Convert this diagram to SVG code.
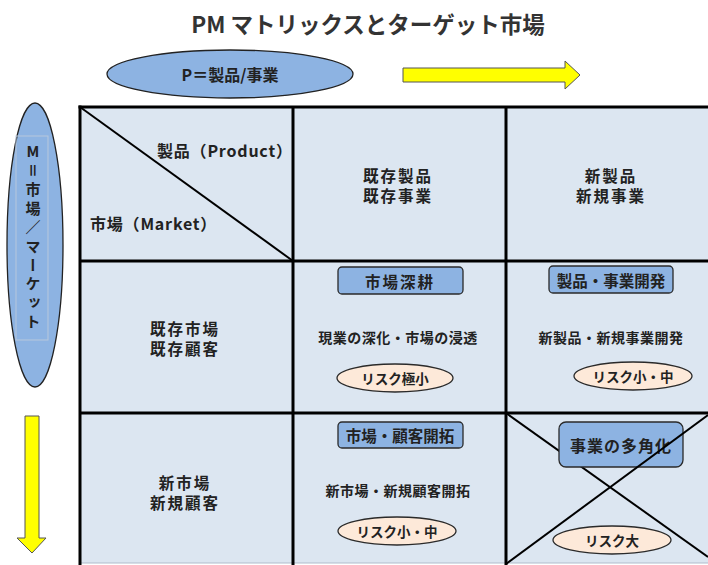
<svg xmlns="http://www.w3.org/2000/svg" width="708" height="565" viewBox="0 0 708 565">
<style>
text{font-family:"Noto Sans CJK JP","Noto Sans",sans-serif;font-weight:bold;fill:#222;}
.t{font-size:15.5px;text-anchor:middle;dominant-baseline:central;}
.s{font-size:14px;text-anchor:middle;dominant-baseline:central;letter-spacing:0.5px;}
.r{font-size:13.5px;text-anchor:middle;dominant-baseline:central;}
.box{fill:#8db3e2;stroke:#2a2a2a;stroke-width:1.3;}
.risk{fill:#fde9d9;stroke:#2a2a2a;stroke-width:1.3;}
.cell{fill:#dce6f1;}
.grid{stroke:#000;stroke-width:3;fill:none;}
.thin{stroke:#000;stroke-width:2;fill:none;}
.arrow{fill:#ffff00;stroke:#555;stroke-width:1;}
</style>
<rect width="708" height="565" fill="#fff"/>
<text x="368" y="23" style="font-size:22.5px;text-anchor:middle;dominant-baseline:central;fill:#333">PM マトリックスとターゲット市場</text>

<g id="p-axis">
<ellipse cx="230" cy="74" rx="123" ry="24" fill="#8db3e2" stroke="#222" stroke-width="1.3"/>
<text class="t" x="230" y="74" style="font-size:16px">P＝製品/事業</text>
</g>
<g id="p-arrow">
<polygon class="arrow" points="403,68 565,68 565,61 580,75 565,89 565,82 403,82"/>
</g>

<g id="m-axis">
<ellipse cx="35" cy="245" rx="28" ry="142" fill="#8db3e2" stroke="#222" stroke-width="1.3"/>
<rect x="16" y="136" width="32" height="204" fill="none" stroke="#b8c8dc" stroke-width="1"/>
<text x="33" y="144" style="font-size:15px;writing-mode:vertical-rl;text-orientation:upright;letter-spacing:3.9px">M＝市場／マーケット</text>
</g>
<g id="m-arrow">
<polygon class="arrow" points="25,416 39,416 39,538 46,538 32,553 17,538 25,538"/>
</g>

<g id="grid">
<rect class="cell" x="80" y="107" width="640" height="456"/>
<line x1="80" y1="563" x2="708" y2="563" stroke="#b0bccb" stroke-width="1"/>
<line class="grid" x1="78.5" y1="107" x2="708" y2="107"/>
<line class="grid" x1="80" y1="105.5" x2="80" y2="565"/>
<line class="grid" x1="293" y1="107" x2="293" y2="565"/>
<line class="grid" x1="506" y1="107" x2="506" y2="565"/>
<line class="grid" x1="80" y1="261" x2="708" y2="261"/>
<line class="grid" x1="80" y1="413" x2="708" y2="413"/>
</g>

<g id="corner">
<line class="thin" x1="80" y1="107" x2="293" y2="261"/>
<text x="157" y="150" style="font-size:16px;dominant-baseline:central" letter-spacing="0.8">製品（Product）</text>
<text x="90" y="223" style="font-size:16px;dominant-baseline:central" letter-spacing="0.8">市場（Market）</text>
</g>

<g id="col-existing">
<text class="t" x="398" y="175" letter-spacing="2">既存製品</text>
<text class="t" x="398" y="195" letter-spacing="2">既存事業</text>
</g>
<g id="col-new">
<text class="t" x="611" y="175" letter-spacing="2">新製品</text>
<text class="t" x="611" y="195" letter-spacing="2">新規事業</text>
</g>
<g id="row-existing">
<text class="t" x="185" y="328" letter-spacing="2">既存市場</text>
<text class="t" x="185" y="348" letter-spacing="2">既存顧客</text>
</g>
<g id="row-new">
<text class="t" x="185" y="482" letter-spacing="2">新市場</text>
<text class="t" x="185" y="502" letter-spacing="2">新規顧客</text>
</g>

<g id="market-penetration">
<rect class="box" x="338" y="267" width="125" height="27" rx="4"/>
<text class="t" x="400" y="280.5" letter-spacing="2">市場深耕</text>
<text class="s" x="398" y="337">現業の深化・市場の浸透</text>
<ellipse class="risk" cx="395" cy="378" rx="58" ry="14"/>
<text class="r" x="395" y="378">リスク極小</text>
</g>

<g id="product-development">
<rect class="box" x="549" y="266" width="124" height="27" rx="4"/>
<text class="t" x="611" y="279.5">製品・事業開発</text>
<text class="s" x="611" y="337">新製品・新規事業開発</text>
<ellipse class="risk" cx="633" cy="376" rx="59" ry="14"/>
<text class="r" x="633" y="376">リスク小・中</text>
</g>

<g id="market-development">
<rect class="box" x="338" y="422" width="125" height="26" rx="4"/>
<text class="t" x="400" y="435">市場・顧客開拓</text>
<text class="s" x="398" y="490">新市場・新規顧客開拓</text>
<ellipse class="risk" cx="397" cy="531" rx="59" ry="14"/>
<text class="r" x="397" y="531">リスク小・中</text>
</g>

<g id="diversification">
<line class="thin" x1="506" y1="413" x2="708" y2="557"/>
<rect class="box" x="559" y="422" width="124" height="45" rx="7"/>
<text class="t" x="621" y="445" style="font-size:16px" letter-spacing="1">事業の多角化</text>
<line class="thin" x1="506" y1="564" x2="708" y2="415"/>
<ellipse class="risk" cx="612" cy="540" rx="59" ry="14"/>
<text class="r" x="612" y="540">リスク大</text>
</g>
</svg>
